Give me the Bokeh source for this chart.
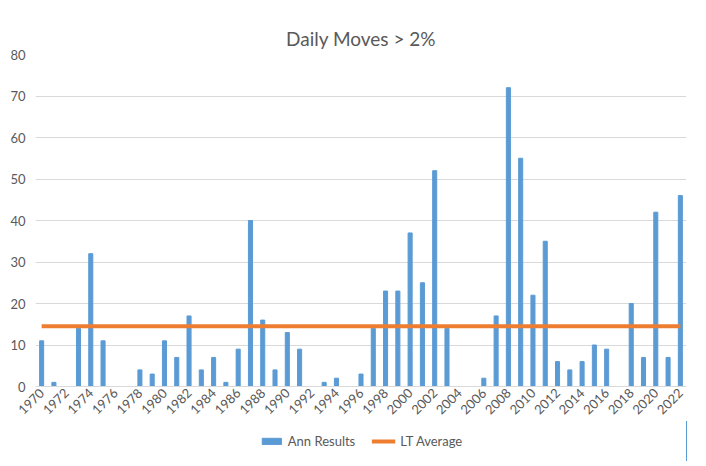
import math
from bokeh.plotting import figure
from bokeh.layouts import column
from bokeh.models import FixedTicker, Legend, LegendItem, ColumnDataSource, Range1d
from bokeh.embed import file_html
from bokeh.resources import INLINE

years = list(range(1970, 2023))
ann_results = [11, 1, 0, 14, 32, 11, 0, 0, 4, 3,
               11, 7, 17, 4, 7, 1, 9, 40, 16, 4,
               13, 9, 0, 1, 2, 0, 3, 14, 23, 23,
               37, 25, 52, 14, 0, 0, 2, 17, 72, 55,
               22, 35, 6, 4, 6, 10, 9, 0, 20, 7,
               42, 7, 46]
lt_average = [14.5] * len(years)
tick_years = list(range(1970, 2023, 2))
y_ticks = [0, 10, 20, 30, 40, 50, 60, 70, 80]
series_names = ["Ann Results", "LT Average"]

FONT = "Lato"
TXT = "#595959"
BLUE = "#5B9BD5"
ORANGE = "#ED7D31"

src = ColumnDataSource(dict(x=years, ann=ann_results, avg=lt_average))

p = figure(frame_width=651, frame_height=332, output_backend="svg", toolbar_location=None,
           x_range=Range1d(1969.5, 2022.5), y_range=Range1d(0, 80),
           min_border_left=35, min_border_right=20, min_border_top=54, min_border_bottom=0)

p.title.text = "Daily Moves > 2%"
p.title.align = "center"
p.title.text_font = FONT
p.title.text_font_size = "19px"
p.title.text_font_style = "normal"
p.title.text_color = TXT

p.vbar(x="x", top="ann", width=0.33, bottom=0, color=BLUE, source=src)
p.line(x="x", y="avg", color=ORANGE, line_width=4, source=src)

p.outline_line_color = None
p.xgrid.grid_line_color = None
p.ygrid.grid_line_color = "#d9d9d9"
p.ygrid.grid_line_width = 1

p.yaxis.ticker = FixedTicker(ticks=y_ticks)
p.yaxis.axis_line_color = None
p.yaxis.major_tick_line_color = None
p.yaxis.minor_tick_line_color = None
p.yaxis.major_tick_out = 0
p.yaxis.minor_tick_out = 0
p.yaxis.major_label_text_font = FONT
p.yaxis.major_label_text_font_size = "13px"
p.yaxis.major_label_text_color = TXT
p.yaxis.major_label_standoff = 10

p.xaxis.ticker = FixedTicker(ticks=tick_years)
p.xaxis.axis_line_color = "#d9d9d9"
p.xaxis.major_tick_line_color = None
p.xaxis.minor_tick_line_color = None
p.xaxis.major_tick_out = 0
p.xaxis.minor_tick_out = 0
p.xaxis.major_label_orientation = math.pi / 4
p.xaxis.major_label_text_font = FONT
p.xaxis.major_label_text_font_size = "13px"
p.xaxis.major_label_text_color = TXT
p.xaxis.major_label_standoff = 4

# separate strip holding the legend below the chart; its glyphs use the same
# data but lie outside this strip's ranges, so only the legend icons show
lg = figure(width=706, height=40, output_backend="svg", toolbar_location=None,
            x_range=Range1d(0, 1), y_range=Range1d(0, 1),
            x_axis_location=None, y_axis_location=None, min_border=0)
lg.outline_line_color = None
lg.xgrid.grid_line_color = None
lg.ygrid.grid_line_color = None
r_bar = lg.vbar(x="x", top="ann", width=0.33, bottom=0, color=BLUE, source=src)
r_line = lg.line(x="x", y="avg", color=ORANGE, line_width=4, source=src)

legend = Legend(items=[LegendItem(label=series_names[0], renderers=[r_bar]),
                       LegendItem(label=series_names[1], renderers=[r_line])],
                orientation="horizontal", location="center")
legend.label_text_font = FONT
legend.label_text_font_size = "13px"
legend.label_text_color = TXT
legend.border_line_color = None
legend.background_fill_alpha = 0
legend.glyph_width = 24
legend.glyph_height = 8
legend.label_height = 14
legend.spacing = 16
legend.margin = 0
legend.padding = 2
lg.add_layout(legend, "center")

layout = column(p, lg, spacing=0)
open("out.html", "w").write(file_html(layout, INLINE))
